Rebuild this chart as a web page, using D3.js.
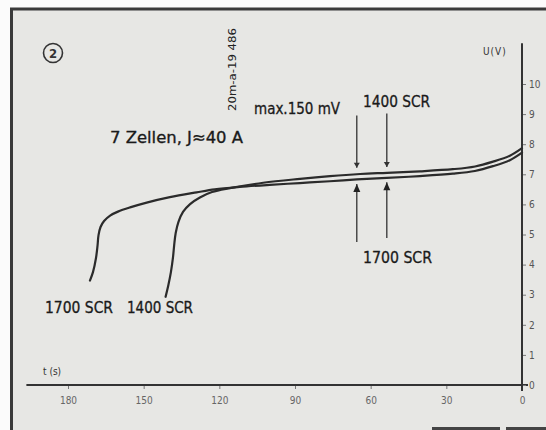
<!DOCTYPE html>
<html><head><meta charset="utf-8">
<script src="https://cdn.jsdelivr.net/npm/d3@7"></script>
<style>body{margin:0;background:#fff}svg{display:block}</style>
</head><body>
<script>
// ---- data ----
const voltTicks = [0,1,2,3,4,5,6,7,8,9,10];
const secondTicks = [180,150,120,90,60,30,0];
const t1400 = [141.3,140.2,139.2,138.4,137.9,137.3,136.2,134.4,131.6,127.7,122.9,115.8,102.6,88.0,76.1,64.2,53.5,40.4,27.4,18.6,11.5,4.8,0];
const u1400 = [2.93,3.32,3.75,4.22,4.65,5.05,5.42,5.75,6.01,6.23,6.41,6.54,6.72,6.85,6.94,7.01,7.05,7.10,7.17,7.26,7.42,7.62,7.87];
const t1700 = [171.3,170.1,168.9,168.3,167.9,167.1,165.7,163.3,160.2,155.4,148.8,139.6,129.0,121.8,111.9,100.0,88.1,76.2,65.5,53.6,40.5,27.4,18.7,11.5,4.8,0];
const u1700 = [3.47,3.75,4.22,4.62,4.98,5.25,5.45,5.63,5.76,5.90,6.06,6.24,6.40,6.50,6.58,6.65,6.71,6.77,6.83,6.88,6.94,7.02,7.11,7.27,7.47,7.72];
// marker arrows (time, top of upper arrow, tip of upper arrow, tip of lower arrow, bottom of lower arrow)
const arrowT = [65.5, 53.6];
const arrowUpperTop = [8.95, 9.02];
const arrowUpperTip = [7.22, 7.24];
const arrowLowerTip = [6.68, 6.74];
const arrowLowerBottom = [4.75, 4.88];

const W = 546, H = 430;
const svg = d3.select("body").append("svg").attr("width", W).attr("height", H);

// background / frame
svg.append("rect").attr("width", W).attr("height", H).attr("fill", "#fbfbfb");
svg.append("rect").attr("x", 10).attr("y", 8).attr("width", W-10).attr("height", H-8).attr("fill", "#e7e7e4");
svg.append("line").attr("x1", 10).attr("x2", W).attr("y1", 9).attr("y2", 9).attr("stroke", "#3a3a3a").attr("stroke-width", 3);
svg.append("line").attr("x1", 11.5).attr("x2", 11.5).attr("y1", 8).attr("y2", H).attr("stroke", "#3a3a3a").attr("stroke-width", 3);
svg.append("line").attr("x1", 432).attr("x2", 500).attr("y1", 428.5).attr("y2", 428.5).attr("stroke", "#444").attr("stroke-width", 3);
svg.append("line").attr("x1", 506).attr("x2", W).attr("y1", 428.5).attr("y2", 428.5).attr("stroke", "#444").attr("stroke-width", 3);

// scales
const x = d3.scaleLinear().domain([0, 180]).range([522, 68]);
const y = d3.scaleLinear().domain([0, 10]).range([385, 84]);

const FONT = "'DejaVu Sans Condensed','DejaVu Sans',sans-serif";

// x axis
const xAxis = d3.axisBottom(x).tickValues(secondTicks).tickSize(4).tickPadding(8).tickFormat(d3.format("d"));
const gx = svg.append("g").attr("transform", `translate(0,${y(0)})`).call(xAxis);
gx.select(".domain").remove();
gx.selectAll(".tick line").attr("stroke", "#777").attr("stroke-width", 1);
gx.selectAll(".tick text").attr("font-family", FONT).attr("font-size", 10).attr("fill", "#666");
svg.append("line").attr("x1", x(196.5)).attr("x2", x(0) + 6).attr("y1", y(0)).attr("y2", y(0))
  .attr("stroke", "#333").attr("stroke-width", 2);

// y axis (ticks to the right)
const yAxis = d3.axisRight(y).tickValues(voltTicks).tickSize(4).tickPadding(3).tickFormat(d3.format("d"));
const gy = svg.append("g").attr("transform", `translate(${x(0)},0)`).call(yAxis);
gy.select(".domain").remove();
gy.selectAll(".tick line").attr("stroke", "#777").attr("stroke-width", 1);
gy.selectAll(".tick text").attr("font-family", FONT).attr("font-size", 10).attr("fill", "#555");
svg.append("line").attr("x1", x(0)).attr("x2", x(0)).attr("y1", y(11.35)).attr("y2", y(0) + 6)
  .attr("stroke", "#333").attr("stroke-width", 2);

// axis labels
svg.append("text").attr("x", 483).attr("y", 55).text("U(V)")
  .attr("font-family", FONT).attr("font-size", 10).attr("fill", "#333").attr("letter-spacing", 1);
svg.append("text").attr("x", 43).attr("y", 375).text("t (s)")
  .attr("font-family", FONT).attr("font-size", 10).attr("fill", "#333");

// curves
const line = d3.line().x(d => x(d[0])).y(d => y(d[1])).curve(d3.curveCatmullRom.alpha(0.5));
const d1400 = t1400.map((t, i) => [t, u1400[i]]);
const d1700 = t1700.map((t, i) => [t, u1700[i]]);
[d1700, d1400].forEach(d => {
  svg.append("path").datum(d).attr("d", line).attr("fill", "none")
    .attr("stroke", "#2b2b2b").attr("stroke-width", 2.2).attr("stroke-linecap", "round");
});

// arrows
arrowT.forEach((t, i) => {
  const ax = x(t);
  svg.append("line").attr("x1", ax).attr("x2", ax).attr("y1", y(arrowUpperTop[i])).attr("y2", y(arrowUpperTip[i]))
    .attr("stroke", "#333").attr("stroke-width", 1.3);
  const ut = y(arrowUpperTip[i]);
  svg.append("path").attr("d", `M${ax-3},${ut-5}L${ax+3},${ut-5}L${ax},${ut}Z`).attr("fill", "#333");
  svg.append("line").attr("x1", ax).attr("x2", ax).attr("y1", y(arrowLowerBottom[i])).attr("y2", y(arrowLowerTip[i]))
    .attr("stroke", "#333").attr("stroke-width", 1.3);
  const lt = y(arrowLowerTip[i]);
  svg.append("path").attr("d", `M${ax-3.5},${lt+8}L${ax+3.5},${lt+8}L${ax},${lt}Z`).attr("fill", "#222");
});

// texts
function label(txt, x0, yc, w, size) {
  svg.append("text").attr("x", x0).attr("y", yc).attr("dy", "0.36em").text(txt)
    .attr("font-family", FONT).attr("font-size", size).attr("fill", "#1a1a1a")
    .attr("stroke", "#1a1a1a").attr("stroke-width", 0.3)
    .attr("textLength", w).attr("lengthAdjust", "spacingAndGlyphs");
}
label("7 Zellen, J≈40 A", 110, 137, 133, 16);
label("max.150 mV", 254, 108, 86, 16);
label("1400 SCR", 363, 101, 67, 16);
label("1700 SCR", 363, 257, 69, 16);
label("1700 SCR", 45, 307, 68, 16);
label("1400 SCR", 127, 307, 66, 16);

// rotated code
svg.append("text").attr("transform", "translate(236,111) rotate(-90)").text("20m-a-19 486")
  .attr("font-family", FONT).attr("font-size", 10).attr("fill", "#222")
  .attr("textLength", 83).attr("lengthAdjust", "spacingAndGlyphs");

// circled number
svg.append("circle").attr("cx", 53).attr("cy", 53).attr("r", 9.5).attr("fill", "none").attr("stroke", "#333").attr("stroke-width", 1.6);
svg.append("text").attr("x", 53).attr("y", 53).attr("dy", "0.36em").attr("text-anchor", "middle").text("2")
  .attr("font-family", FONT).attr("font-size", 13).attr("font-weight", "bold").attr("fill", "#333");
</script>
</body></html>
